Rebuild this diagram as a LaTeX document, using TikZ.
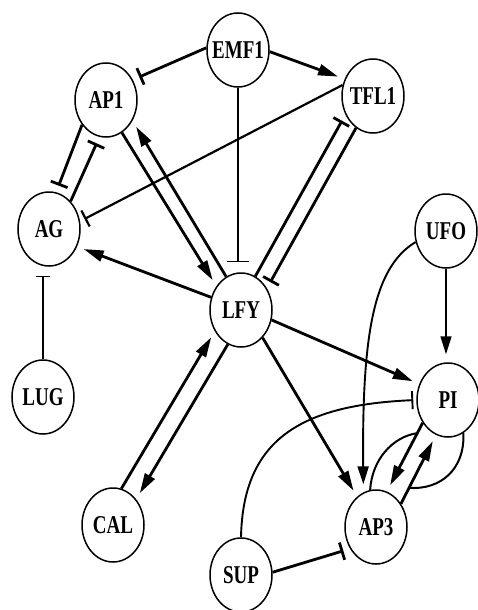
\documentclass[tikz,border=0pt]{standalone}
\usepackage{fontspec}
\usepackage{graphicx}
\setmainfont{Liberation Serif}
\usetikzlibrary{shapes.geometric,arrows.meta,calc}
\newcommand{\gname}[1]{\makebox[0pt]{\scalebox{1}[1.35]{\bfseries #1}}}
\tikzset{
  gene/.style={ellipse,draw,line width=1.5pt,minimum width=62pt,minimum height=74pt,inner sep=0pt,font=\fontsize{19}{19}\selectfont},
  act/.style={line width=2.8pt,-{Triangle[length=20pt,width=11pt]},shorten >=7pt},
  inh/.style={line width=2.8pt,-{Bar[width=18pt]},shorten >=7pt},
  thinact/.style={line width=1.5pt,-{Triangle[length=18pt,width=11pt]},shorten >=8pt},
  thininh/.style={line width=1.5pt,-{Bar[width=#1]}},
  arcline/.style={line width=2pt},
}
\begin{document}
\begin{tikzpicture}[x=1pt,y=-1pt]
\useasboundingbox (0,0) rectangle (478,610);
% nodes
\node[gene] (EMF1) at (238,50)  {\gname{EMF1}};
\node[gene] (AP1)  at (106,100) {\gname{AP1}};
\node[gene] (TFL1) at (373,96)  {\gname{TFL1}};
\node[gene] (AG)   at (49,229)  {\gname{AG}};
\node[gene] (LFY)  at (241,310) {\gname{LFY}};
\node[gene] (UFO)  at (446,231) {\gname{UFO}};
\node[gene] (LUG)  at (43,397)  {\gname{LUG}};
\node[gene] (PI)   at (448,400) {\gname{PI}};
\node[gene] (CAL)  at (113,525) {\gname{CAL}};
\node[gene] (AP3)  at (376,527) {\gname{AP3}};
\node[gene] (SUP)  at (241,575) {\gname{SUP}};
% EMF1
\draw[inh] (EMF1.176) -- (AP1.37);
\draw[act] (EMF1.-3) -- (TFL1.149);
\draw[thininh=22pt, shorten >=10pt] (EMF1.south) -- (EMF1.south |- LFY.north);
% TFL1 -| AG
\draw[inh, line width=2.2pt, shorten >=5pt] (TFL1.160) -- (AG.14);
% AP1 / AG
\draw[inh] (AP1.-134) -- (AG.79);
\draw[inh] (AG.52) -- (AP1.-100);
% AP1 / LFY
\draw[act] (AP1.-64) -- (LFY.136);
\draw[act] (LFY.114) -- (AP1.-38);
% TFL1 / LFY
\draw[inh] (TFL1.-118) -- (LFY.40);
\draw[inh] (LFY.67) -- (TFL1.-146);
% LFY -> AG
\draw[act] (LFY.157) -- (AG.-32);
% LUG -| AG
\draw[thininh=14pt, shorten >=9pt] (LUG.north) -- (LUG.north |- AG.south);
% CAL / LFY
\draw[act] (CAL.77) -- (LFY.-141);
\draw[act] (LFY.-111) -- (CAL.48);
% LFY -> PI, AP3
\draw[act] (LFY.-18) -- (PI.151);
\draw[act] (LFY.-52) -- (AP3.122);
% UFO
\draw[thinact] (UFO.south) -- (UFO.south |- PI.north);
\draw[thinact, line width=1.9pt] (UFO.200) .. controls (372,268) and (362,340) .. (AP3.110);
% SUP
\draw[line width=1.9pt, -{Bar[width=18pt]}, shorten >=3pt] (SUP.north) .. controls (243,440) and (300,405) .. (PI.west);
\draw[inh] (SUP.5) -- (AP3.-140);
% PI / AP3
\draw[act] (PI.-138) -- (AP3.73);
\draw[act] (AP3.43) -- (PI.-109);
\coordinate (la) at ($(PI.-138)!0.15!(AP3.73)$);
\coordinate (ra) at ($(AP3.43)!0.23!(PI.-109)$);
\draw[arcline] (AP3.99) .. controls (372,460) and (392,437) .. (la);
\draw[arcline] (PI.-65) .. controls (465,470) and (440,490) .. (ra);
\end{tikzpicture}
\end{document}
